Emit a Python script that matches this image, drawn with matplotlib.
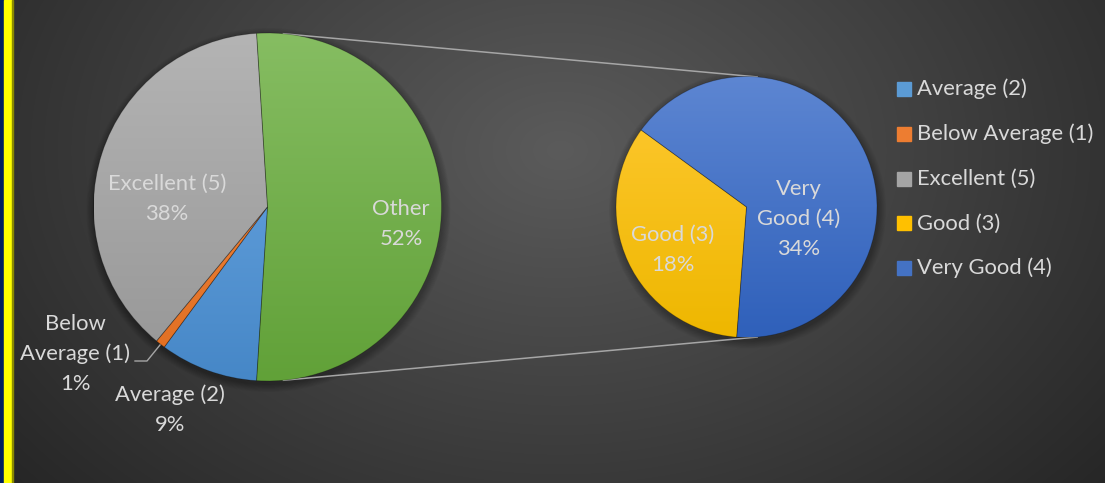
import numpy as np
import matplotlib.pyplot as plt
from matplotlib.colors import LinearSegmentedColormap, to_rgb
from matplotlib.patches import Circle, Rectangle

plt.rcParams['font.family'] = ['Lato', 'DejaVu Sans']

####################
# Data (share of answers, %)
####################
main_labels = ['Average (2)', 'Below Average (1)', 'Excellent (5)']
main_values = [9.1, 0.9, 38.0]
sub_labels = ['Good (3)', 'Very Good (4)']
sub_values = [17.6, 34.4]
legend_labels = ['Average (2)', 'Below Average (1)', 'Excellent (5)', 'Good (3)', 'Very Good (4)']

# gradient colours per slice: (top, bottom)
slice_colors = {
    'Average (2)': ('#70ace6', '#4687c7'),
    'Below Average (1)': ('#f5904c', '#e06d20'),
    'Excellent (5)': ('#b4b4b4', '#969696'),
    'Other': ('#86bd62', '#61a138'),
    'Good (3)': ('#ffc933', '#eeb700'),
    'Very Good (4)': ('#5d86d2', '#2f60ba'),
}
legend_swatch = {
    'Average (2)': '#5b9bd5', 'Below Average (1)': '#ed7d31', 'Excellent (5)': '#a5a5a5',
    'Good (3)': '#ffc000', 'Very Good (4)': '#4472c4',
}

W, H = 1105, 483
TXT = '#d9d9d9'
LINE = '#a6a6a6'
FS = 15.8


def background(ax):
    yy, xx = np.mgrid[0:H, 0:W]
    d = np.sqrt(((xx - 560) / 720.0) ** 2 + ((yy - 150) / 520.0) ** 2)
    d = np.clip(d, 0, 1)[..., None]
    inner = np.array(to_rgb('#5b5b5b'))
    outer = np.array(to_rgb('#262626'))
    img = inner * (1 - d) + outer * d
    ax.imshow(img, extent=(0, W, 0, H), origin='upper', aspect='auto', zorder=0)
    # yellow frame on the left edge
    ax.add_patch(Rectangle((0, 0), 4, H, color='#002060', zorder=5))
    ax.add_patch(Rectangle((4, 0), 8, H, color='#ffff00', zorder=5))
    ax.add_patch(Rectangle((12, 0), 1, H, color='#8a8a00', zorder=5))


def shadow(ax, center, r):
    # soft drop shadow, a bit heavier below the pie
    for k in range(1, 11):
        ax.add_patch(Circle((center[0] + 1, center[1] - 3), r + k * 0.8,
                            color='black', alpha=0.028, lw=0, zorder=0.8))


def gradient_pie(ax, values, labels, center, r, startangle):
    wedges, _ = ax.pie(values, center=center, radius=r, startangle=startangle,
                       counterclock=False,
                       wedgeprops=dict(edgecolor=(0, 0, 0, 0.25), linewidth=0.6))
    grad = np.linspace(0, 1, 256).reshape(-1, 1)
    for w, lab in zip(wedges, labels):
        top, bottom = slice_colors[lab]
        cmap = LinearSegmentedColormap.from_list(lab, [bottom, top])
        im = ax.imshow(grad, cmap=cmap, origin='lower', aspect='auto',
                       extent=(center[0] - r, center[0] + r, center[1] - r, center[1] + r),
                       zorder=1.5)
        im.set_clip_path(w)
        w.set_facecolor('none')
        w.set_zorder(2)
    return wedges


def pct_label(name, v, wrap=False):
    if wrap:
        name = name.replace(' ', '\n', 1)
    return '%s\n%d%%' % (name, round(v))


fig = plt.figure(figsize=(W / 100, H / 100), dpi=100)
ax = fig.add_axes([0, 0, 1, 1])
background(ax)

c1, r1 = (267.5, H - 207), 174
c2, r2 = (746.5, H - 207), 130.5
other = sum(sub_values)

shadow(ax, c1, r1)
shadow(ax, c2, r2)
gradient_pie(ax, main_values + [other], main_labels + ['Other'], c1, r1, -other * 3.6 / 2)
gradient_pie(ax, sub_values, sub_labels, c2, r2, -94.3)

# connector lines between the pies
for a in (85, -85):
    t = np.radians(a)
    ax.plot([c1[0] + r1 * np.cos(t), c2[0] + r2 * np.cos(t)],
            [c1[1] + r1 * np.sin(t), c2[1] + r2 * np.sin(t)],
            color=LINE, lw=1.1, zorder=1, solid_capstyle='butt')

# data labels
label_pos = {
    'Average (2)': (170, 410), 'Below Average (1)': (75, 354),
    'Excellent (5)': (167, 199), 'Other': (401, 224),
    'Good (3)': (673, 250), 'Very Good (4)': (799, 219),
}
all_vals = dict(zip(main_labels + ['Other'] + sub_labels, main_values + [other] + sub_values))
for lab, (x, y) in label_pos.items():
    wrap = lab in ('Below Average (1)', 'Very Good (4)')
    ax.text(x, H - y, pct_label(lab, all_vals[lab], wrap), color=TXT, fontsize=FS,
            ha='center', va='center', linespacing=1.6, zorder=4)

# leader line for the tiny slice
ax.plot([135, 147, 160], [H - 361, H - 361, H - 345], color=LINE, lw=1.0, zorder=3)

# legend
for i, lab in enumerate(legend_labels):
    y = H - (89 + i * 44.8)
    ax.add_patch(Rectangle((897, y - 7), 14, 14, color=legend_swatch[lab], zorder=4))
    ax.text(917, y, lab, color=TXT, fontsize=FS, ha='left', va='center', zorder=4)

ax.set_xlim(0, W)
ax.set_ylim(0, H)
ax.set_aspect('auto')
ax.axis('off')
fig.savefig('out.png', dpi=100)
